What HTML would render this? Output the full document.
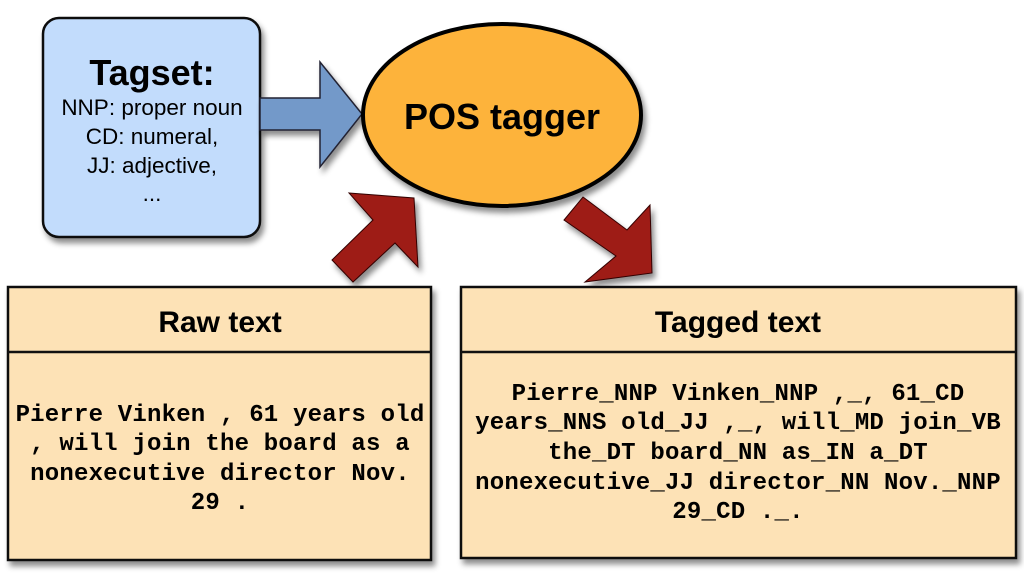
<!DOCTYPE html>
<html><head><meta charset="utf-8"><style>
html,body{margin:0;padding:0;background:#fff;width:1024px;height:579px;overflow:hidden}
</style></head><body>
<svg width="1024" height="579" xmlns="http://www.w3.org/2000/svg">
<defs>
<filter id="sh" x="-10%" y="-10%" width="130%" height="130%"><feDropShadow dx="3" dy="5" stdDeviation="3" flood-color="#000" flood-opacity="0.45"/></filter>
</defs>
<rect x="43" y="18" width="217" height="219" rx="16" fill="#c2dcfc" stroke="#111" stroke-width="2.5" filter="url(#sh)"/>
<g font-family="Liberation Sans, sans-serif" text-anchor="middle" fill="#000">
<text x="152" y="85" font-size="36" font-weight="bold">Tagset:</text>
<text x="152" y="115" font-size="22.5">NNP: proper noun</text>
<text x="152" y="144" font-size="22.5">CD: numeral,</text>
<text x="152" y="173" font-size="22.5">JJ: adjective,</text>
<text x="152" y="201" font-size="22.5">...</text>
</g>
<polygon points="260,98 320,98 320,62 362,114 320,167 320,130 260,130" fill="#7399c9" stroke="#223" stroke-width="1.5" filter="url(#sh)"/>
<ellipse cx="502" cy="115" rx="139" ry="91" fill="#fdb33a" stroke="#000" stroke-width="4" filter="url(#sh)"/>
<text x="502" y="129" font-family="Liberation Sans, sans-serif" font-size="36" font-weight="bold" text-anchor="middle">POS tagger</text>
<polygon points="349,193 414,198 418,267 395,243 353,282 332,260 373,220" fill="#9e1b16" stroke="#300" stroke-width="1" filter="url(#sh)"/>
<polygon points="583,197 627,230 650,205 652,273 585,282 616,256 564,220" fill="#9e1b16" stroke="#300" stroke-width="1" filter="url(#sh)"/>
<g filter="url(#sh)">
<rect x="8" y="287" width="423" height="273" fill="#fde2b6" stroke="#111" stroke-width="2.5"/>
<rect x="461" y="287" width="555" height="271" fill="#fde2b6" stroke="#111" stroke-width="2.5"/>
</g>
<line x1="8" y1="352" x2="431" y2="352" stroke="#111" stroke-width="2.5"/>
<line x1="461" y1="352" x2="1016" y2="352" stroke="#111" stroke-width="2.5"/>
<g font-family="Liberation Sans, sans-serif" font-size="30" font-weight="bold" text-anchor="middle">
<text x="220" y="332">Raw text</text>
<text x="738" y="332">Tagged text</text>
</g>
<g font-family="Liberation Mono, monospace" font-size="24" font-weight="bold" text-anchor="middle" letter-spacing="0.2">
<text x="220" y="421">Pierre Vinken , 61 years old</text>
<text x="220" y="450">, will join the board as a</text>
<text x="220" y="480">nonexecutive director Nov.</text>
<text x="220" y="509">29 .</text>
<text x="738" y="400">Pierre_NNP Vinken_NNP ,_, 61_CD</text>
<text x="738" y="429">years_NNS old_JJ ,_, will_MD join_VB</text>
<text x="738" y="459">the_DT board_NN as_IN a_DT</text>
<text x="738" y="489">nonexecutive_JJ director_NN Nov._NNP</text>
<text x="738" y="518">29_CD ._.</text>
</g>
</svg>
</body></html>
